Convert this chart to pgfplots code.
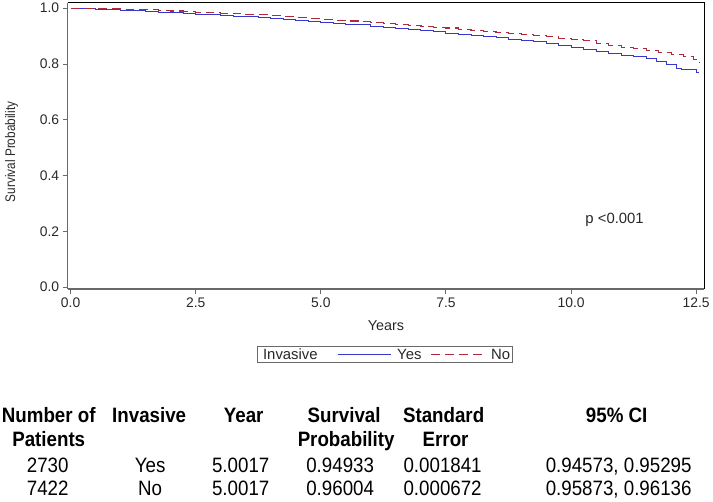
\documentclass[border=0pt]{standalone}
\usepackage{fontspec}
\setmainfont{Liberation Sans}
\newfontfamily\narrowfont{Liberation Sans}[FakeStretch=0.9]
\newfontfamily\ylabfont{Liberation Sans}[FakeStretch=0.85]
\usepackage{pgfplots}
\pgfplotsset{compat=1.18}
\definecolor{kmblue}{RGB}{55,55,205}
\definecolor{kmred}{RGB}{175,40,60}
\definecolor{axgray}{RGB}{105,105,105}
\definecolor{txt}{RGB}{40,40,40}

\pgfplotstableread{
x y
0 1.000
0.25 0.999
0.5 0.997
0.75 0.995
1.0 0.993
1.25 0.991
1.5 0.989
1.75 0.986
2.0 0.984
2.25 0.981
2.5 0.979
2.75 0.976
3.0 0.974
3.25 0.972
3.5 0.969
3.75 0.966
4.0 0.963
4.25 0.960
4.5 0.957
4.75 0.953
5.0 0.949
5.25 0.946
5.5 0.943
5.75 0.940
6.0 0.936
6.25 0.932
6.5 0.928
6.75 0.924
7.0 0.920
7.25 0.916
7.5 0.911
7.75 0.907
8.0 0.903
8.25 0.898
8.5 0.894
8.75 0.889
9.0 0.885
9.25 0.880
9.5 0.875
9.75 0.868
10.0 0.860
10.25 0.851
10.5 0.844
10.75 0.837
11.0 0.831
11.25 0.826
11.5 0.819
11.7 0.810
11.9 0.798
12.1 0.785
12.2 0.781
12.45 0.779
12.5 0.771
12.56 0.771
}\yesdata

\pgfplotstableread{
x y
0 1.000
0.25 1.000
0.5 0.999
0.75 0.998
1.0 0.997
1.25 0.996
1.5 0.994
1.75 0.992
2.0 0.990
2.25 0.988
2.5 0.986
2.75 0.984
3.0 0.982
3.25 0.980
3.5 0.978
3.75 0.976
4.0 0.973
4.25 0.970
4.5 0.967
4.75 0.964
5.0 0.960
5.25 0.957
5.5 0.954
5.75 0.951
6.0 0.948
6.25 0.945
6.5 0.942
6.75 0.939
7.0 0.935
7.25 0.932
7.5 0.929
7.75 0.925
8.0 0.921
8.25 0.917
8.5 0.913
8.75 0.909
9.0 0.905
9.25 0.902
9.5 0.899
9.75 0.893
10.0 0.888
10.25 0.883
10.5 0.874
10.75 0.866
11.0 0.860
11.25 0.855
11.5 0.848
11.75 0.840
12.0 0.833
12.25 0.826
12.45 0.816
12.56 0.804
}\nodata

\begin{document}
\begin{tikzpicture}
\path (0,0) rectangle (713bp,-503bp);
\begin{axis}[
  at={(68bp,-289bp)}, anchor=south west,
  scale only axis, width=640bp, height=288bp,
  xmin=-0.06, xmax=12.66, ymin=-0.007, ymax=1.02,
  axis x line*=bottom, axis y line*=left,
  axis line style={-, axgray, line width=1.5bp},
  xtick={0,2.5,5,7.5,10,12.5},
  ytick={0,0.2,0.4,0.6,0.8,1.0},
  tick align=outside, major tick length=5bp,
  tick style={axgray, line width=1bp},
  /pgf/number format/assume math mode=true,
  xticklabel style={/pgf/number format/.cd, fixed, fixed zerofill, precision=1},
  yticklabel style={/pgf/number format/.cd, fixed, fixed zerofill, precision=1},
  ticklabel style={font=\fontsize{14}{16}\selectfont, text=txt},
  xlabel={Years},
  xlabel style={at={(axis description cs:0.5,-0.128)}, anchor=center, font=\fontsize{14.5}{16}\selectfont, text=txt},
  ylabel={Survival Probability},
  ylabel style={at={(axis description cs:-0.088,0.479)}, anchor=center, rotate=0, font=\ylabfont\fontsize{14}{16}\selectfont, text=txt},
  legend style={at={(axis description cs:0.498,-0.229)}, anchor=center,
    draw=axgray, line width=0.8bp, font=\fontsize{15}{16}\selectfont, text=txt,
    inner sep=0.5bp, row sep=0bp,
    nodes={inner sep=1.5bp},
    /tikz/every odd column/.append style={column sep=4bp},
    /tikz/every even column/.append style={column sep=0bp}},
  legend columns=-1,
  legend image code/.code={\draw[#1] (0bp,0bp) -- (54bp,0bp);},
  after end axis/.code={\draw[black, line width=1bp] (rel axis cs:0,1) -- (rel axis cs:1,1) -- (rel axis cs:1,0);},
  clip=false,
]
\addlegendimage{empty legend}
\addlegendentry{Invasive\rule{18bp}{0pt}}
\addplot[const plot, kmblue, line width=1bp] table[x=x,y=y] {\yesdata};
\addlegendentry{Yes\rule{8bp}{0pt}}
\addplot[const plot, kmred, line width=1.1bp, dash pattern=on 9bp off 5bp] table[x=x,y=y] {\nodata};
\addlegendentry{No}
\node[font=\fontsize{15}{17}\selectfont, text=txt] at (axis cs:10.87,0.243) {p <0.001};
\end{axis}

\begin{scope}[every node/.style={anchor=base, inner sep=0pt, font=\narrowfont\fontsize{21}{23}\selectfont}]
\node[font=\narrowfont\bfseries\fontsize{21}{23}\selectfont] at (49bp,-423bp) {Number of};
\node[font=\narrowfont\bfseries\fontsize{21}{23}\selectfont] at (49bp,-447bp) {Patients};
\node[font=\narrowfont\bfseries\fontsize{21}{23}\selectfont] at (150bp,-423bp) {Invasive};
\node[font=\narrowfont\bfseries\fontsize{21}{23}\selectfont] at (245bp,-423bp) {Year};
\node[font=\narrowfont\bfseries\fontsize{21}{23}\selectfont] at (346bp,-423bp) {Survival};
\node[font=\narrowfont\bfseries\fontsize{21}{23}\selectfont] at (348bp,-447bp) {Probability};
\node[font=\narrowfont\bfseries\fontsize{21}{23}\selectfont] at (446bp,-423bp) {Standard};
\node[font=\narrowfont\bfseries\fontsize{21}{23}\selectfont] at (448bp,-447bp) {Error};
\node[font=\narrowfont\bfseries\fontsize{21}{23}\selectfont] at (620bp,-423bp) {95\% CI};
\node at (48bp,-473bp) {2730};
\node at (151bp,-473bp) {Yes};
\node at (242bp,-473bp) {5.0017};
\node at (342bp,-473bp) {0.94933};
\node at (445bp,-473bp) {0.001841};
\node at (622bp,-473bp) {0.94573, 0.95295};
\node at (48bp,-497bp) {7422};
\node at (151bp,-497bp) {No};
\node at (242bp,-497bp) {5.0017};
\node at (342bp,-497bp) {0.96004};
\node at (445bp,-497bp) {0.000672};
\node at (622bp,-497bp) {0.95873, 0.96136};
\end{scope}
\end{tikzpicture}
\end{document}
